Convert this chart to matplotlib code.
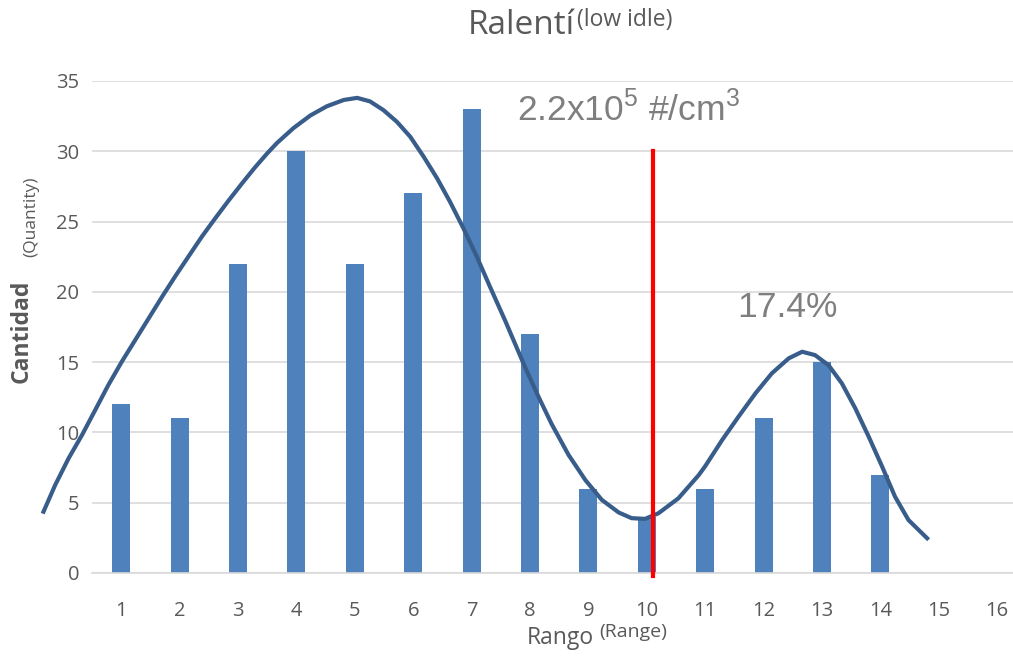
import matplotlib.pyplot as plt

plt.rcParams['font.family'] = ['Open Sans', 'DejaVu Sans']
plt.rcParams['mathtext.fontset'] = 'custom'
plt.rcParams['mathtext.rm'] = 'Liberation Sans'

rango = list(range(1, 15))
cantidad = [12, 11, 22, 30, 22, 27, 33, 17, 6, 4, 6, 11, 15, 7]
xticks = list(range(1, 17))

# trend line, points
curve_x = [-0.33, -0.13, 0.10, 0.33, 0.555, 0.78, 1.01, 1.24, 1.47, 1.70, 1.92, 2.15,
           2.38, 2.61, 2.84, 3.07, 3.29, 3.50, 3.67, 3.95, 4.24, 4.52, 4.81, 5.04,
           5.26, 5.49, 5.72, 5.95, 6.18, 6.41, 6.63, 6.86, 7.09, 7.30, 7.58, 7.92,
           8.15, 8.37, 8.66, 8.95, 9.23, 9.52, 9.74, 9.97, 10.20, 10.54, 10.89, 11.0,
           11.29, 11.57, 11.86, 12.14, 12.43, 12.66, 12.88, 13.11, 13.34, 13.57, 13.80,
           14.03, 14.25, 14.48, 14.80]
curve_y = [4.36, 6.26, 8.16, 9.82, 11.59, 13.37, 15.03, 16.57, 18.11, 19.65, 21.07, 22.5,
           23.92, 25.23, 26.5, 27.72, 28.85, 29.85, 30.6, 31.65, 32.55, 33.2, 33.65, 33.8,
           33.55, 32.93, 32.1, 31.03, 29.61, 28.07, 26.41, 24.52, 22.5, 20.5, 17.9, 14.6,
           12.5, 10.6, 8.4, 6.6, 5.2, 4.3, 3.9, 3.85, 4.25, 5.31, 6.97, 7.6,
           9.46, 11.12, 12.78, 14.2, 15.27, 15.74, 15.5, 14.79, 13.49, 11.71, 9.69,
           7.56, 5.43, 3.77, 2.47]

corte = 10.1

fig = plt.figure(figsize=(10.13, 6.58), dpi=100)
ax = fig.add_axes([0.0908, 0.1292, 0.9092, 0.7477])

ax.bar(rango, cantidad, width=0.31, color='#4f81bd', zorder=2)
ax.plot(curve_x, curve_y, color='#395d8a', lw=3, clip_on=False, zorder=3,
        solid_joinstyle='round')
ax.plot([corte, corte], [-0.2, 30], color='#ff0000', lw=3, zorder=4, clip_on=False)

ax.set_xlim(0.5, 16.27)
ax.set_ylim(0, 35)
ax.set_xticks(xticks)
ax.set_yticks(range(0, 36, 5))
ax.grid(axis='y', color='#d9d9d9', lw=1.2, zorder=0)
ax.set_axisbelow(True)
for s in ['top', 'right', 'left']:
    ax.spines[s].set_visible(False)
ax.spines['bottom'].set_color('#d9d9d9')
ax.spines['bottom'].set_linewidth(1.2)
ax.tick_params(length=0, labelsize=14.5, labelcolor='#595959')
ax.tick_params(axis='x', pad=20)
ax.tick_params(axis='y', pad=9)

# title
fig.text(0.5676, 0.962, 'Ralentí', ha='right', va='center', fontsize=24, color='#595959')
fig.text(0.5696, 0.970, '(low idle)', ha='left', va='center', fontsize=16.5, color='#595959')

# axis labels
fig.text(0.520, 0.030, 'Rango', ha='left', va='center', fontsize=16.5, color='#595959')
fig.text(0.592, 0.040, '(Range)', ha='left', va='center', fontsize=14, color='#595959')
fig.text(0.0217, 0.497, 'Cantidad', ha='center', va='center', rotation=90,
         fontsize=16.5, fontweight='bold', color='#595959')
fig.text(0.031, 0.670, '(Quantity)', ha='center', va='center', rotation=90,
         fontsize=12.5, color='#595959')

fig.text(0.510, 0.816, r'2.2x10$^\mathregular{5}$ #/cm$^\mathregular{3}$', ha='left',
         va='baseline', fontsize=25.5, color='#7f7f7f', family='Liberation Sans')
fig.text(0.7275, 0.518, '17.4%', ha='left', va='baseline', fontsize=25.5,
         color='#7f7f7f', family='Liberation Sans')

fig.savefig('out.png', dpi=100)
